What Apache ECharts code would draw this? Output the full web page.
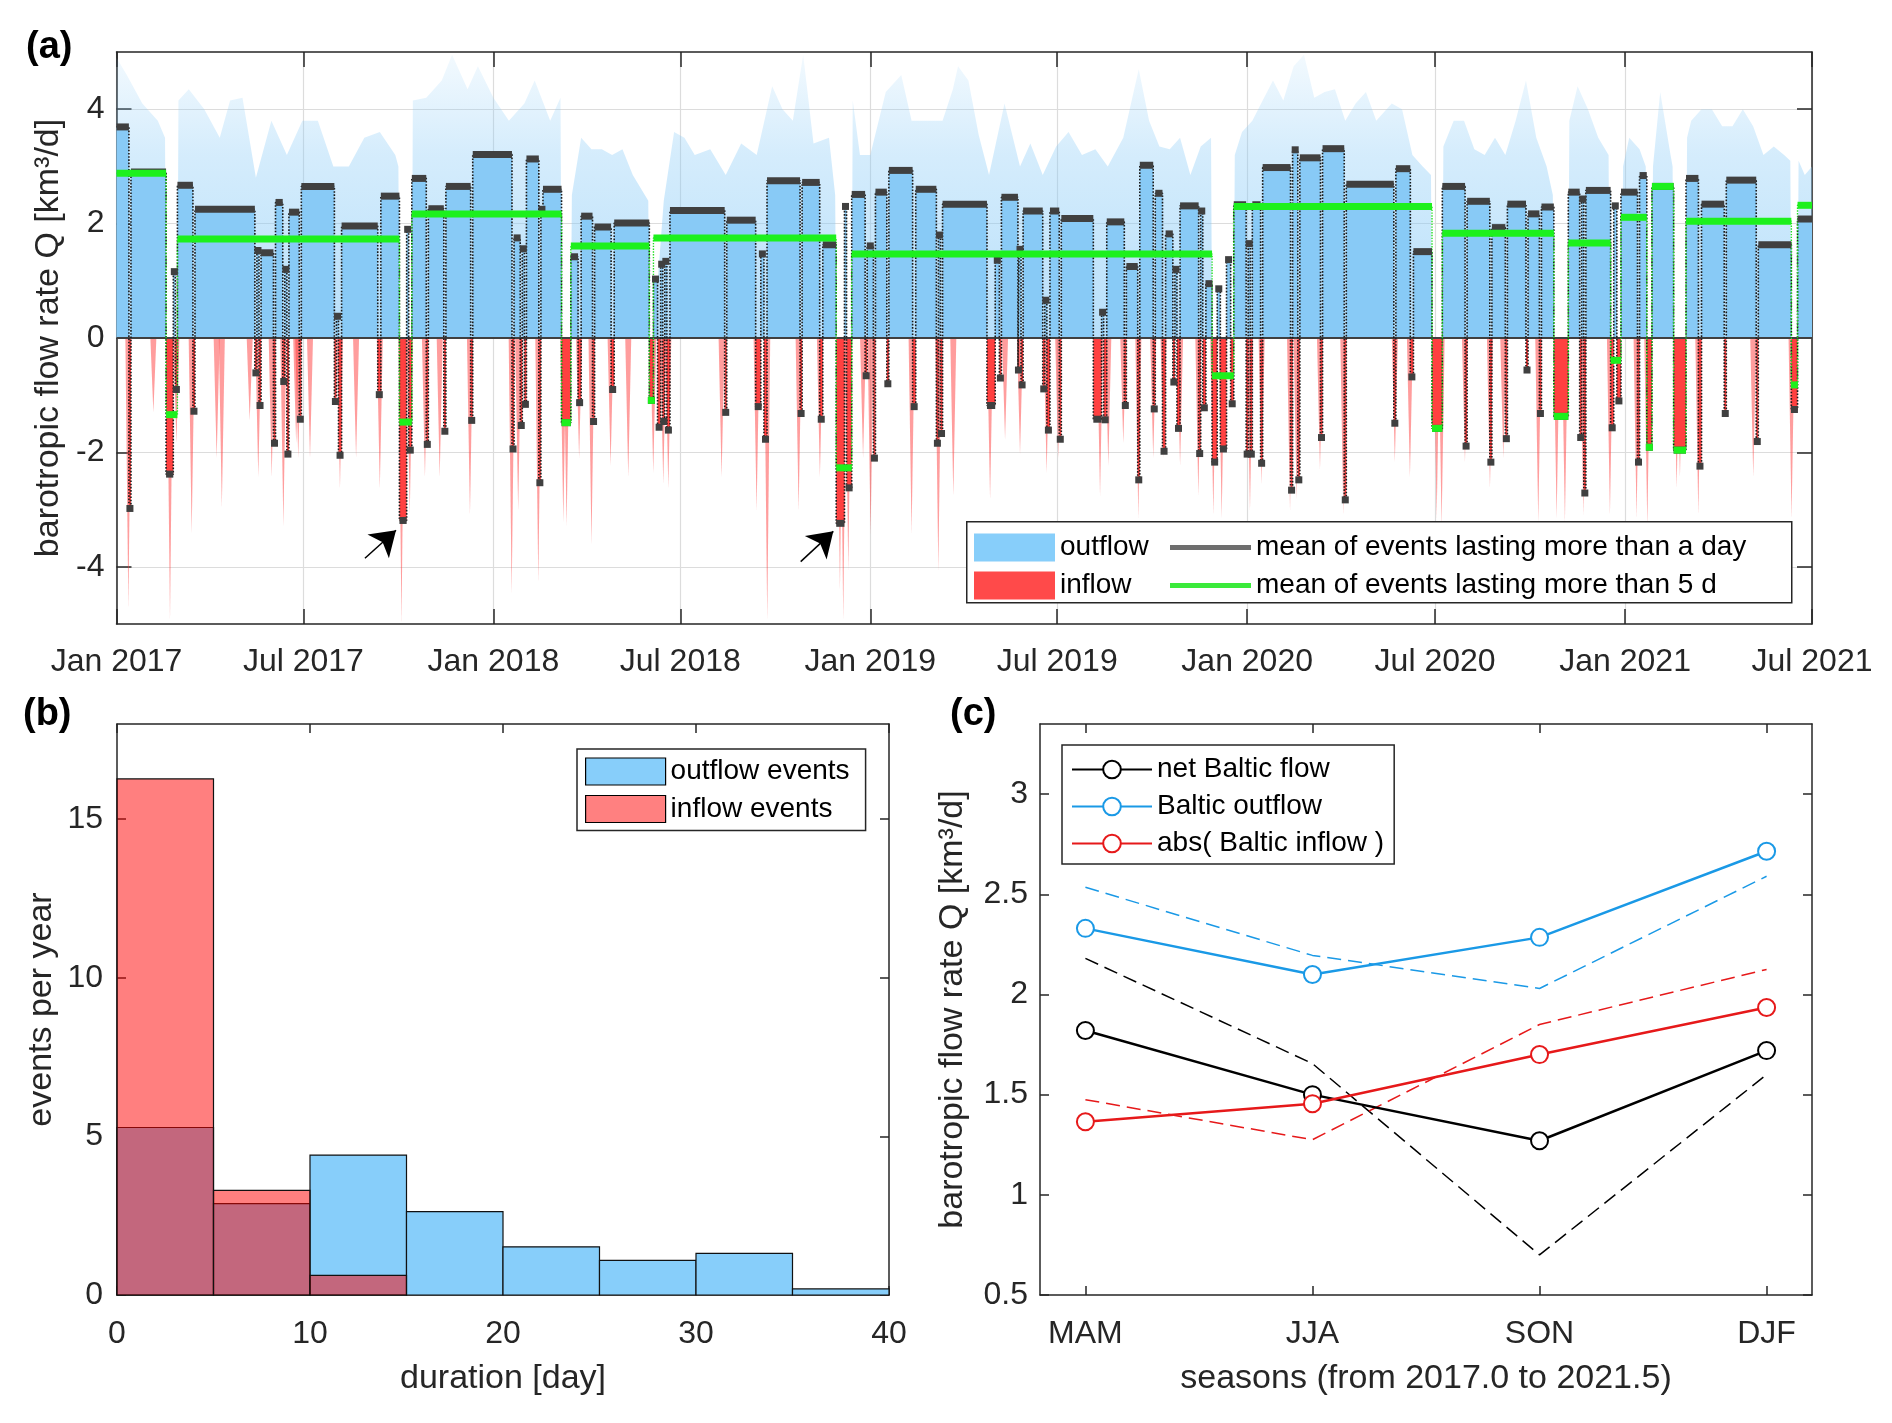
<!DOCTYPE html>
<html><head><meta charset="utf-8">
<script src="https://cdn.jsdelivr.net/npm/echarts@6/dist/echarts.min.js"></script>
<style>html,body{margin:0;padding:0;background:#fff}#c{width:1892px;height:1423px}</style>
</head><body><div id="c"></div>
<script>
// ---------- DATA ----------
// panel (a): x in days since 2017-01-01
const xTickDays = [0,181,365,546,730,911,1095,1277,1461,1642];
const xTickLabels = ['Jan 2017','Jul 2017','Jan 2018','Jul 2018','Jan 2019','Jul 2019','Jan 2020','Jul 2020','Jan 2021','Jul 2021'];
const yTicksA = [-4,-2,0,2,4];

// [startDay, endDay, mean] events lasting more than a day
const blackEvents = [
[0,12,3.69],[12,14,-2.98],[14,48,2.90],[48,55,-2.38],[55,57,1.16],[57,59,-0.90],[59,74,2.67],[74,76,-1.28],
[76,134,2.25],[134,136,-0.61],[136,138,1.53],[138,140,-1.18],[140,152,1.49],[152,154,-1.84],[154,161,2.37],
[161,163,-0.76],[163,165,1.20],[165,167,-2.03],[167,177,2.20],[177,179,-1.42],[179,211,2.65],[211,213,-1.11],
[213,215,0.38],[215,218,-2.05],[218,253,1.96],[253,256,-0.99],[256,274,2.48],[274,281,-3.19],[281,283,1.90],
[283,286,-1.96],[286,300,2.79],[300,302,-1.86],[302,317,2.26],[317,319,-1.63],[319,343,2.65],[343,345,-1.44],
[345,383,3.21],[383,385,-1.94],[385,391,1.75],[391,393,-1.53],[393,395,1.56],[395,397,-1.16],[397,409,3.13],
[409,411,-2.53],[411,413,2.25],[413,431,2.60],[431,440,-1.48],[440,447,1.42],[447,450,-1.13],[450,461,2.13],
[461,463,-1.46],[463,479,1.94],[479,482,-0.90],[482,516,2.01],[516,520,-1.09],[520,524,1.03],[524,527,-1.56],
[527,529,1.29],[529,531,-1.46],[531,533,1.34],[533,536,-1.61],[536,589,2.23],[589,591,-1.30],[591,619,2.06],
[619,624,-1.20],[624,627,1.47],[627,630,-1.77],[630,662,2.75],[662,664,-1.32],[664,681,2.72],[681,684,-1.42],
[684,697,1.63],[697,705,-3.24],[705,707,2.30],[707,712,-2.62],[712,725,2.51],[725,727,-0.66],[727,733,1.61],
[733,735,-2.10],[735,746,2.55],[746,748,-0.80],[748,771,2.93],[771,774,-1.20],[774,794,2.60],[794,796,-1.84],
[796,798,1.80],[798,800,-1.67],[800,843,2.34],[843,851,-1.18],[851,855,1.36],[855,857,-0.70],[857,873,2.46],
[873,874,-0.56],[874,876,1.55],[876,878,-0.82],[878,897,2.22],[897,899,-0.89],[899,901,0.66],[901,904,-1.61],
[904,913,2.22],[913,915,-1.77],[915,946,2.09],[946,954,-1.42],[954,956,0.45],[956,959,-1.43],[959,976,2.03],
[976,978,-1.18],[978,989,1.25],[989,991,-2.48],[991,1004,3.02],[1004,1006,-1.24],[1006,1013,2.53],[1013,1016,-1.98],
[1016,1023,1.82],[1023,1025,-0.77],[1025,1027,1.20],[1027,1030,-1.58],[1030,1048,2.31],[1048,1050,-2.02],
[1050,1052,2.22],[1052,1055,-1.22],[1055,1061,0.95],[1061,1066,-2.17],[1066,1069,0.86],[1069,1075,-1.94],
[1075,1079,1.37],[1079,1082,-1.15],[1082,1094,2.33],[1094,1096,-2.03],[1096,1098,1.65],[1098,1100,-2.03],
[1100,1108,2.33],[1108,1110,-2.19],[1110,1137,2.98],[1137,1139,-2.66],[1139,1144,3.29],[1144,1146,-2.48],
[1146,1166,3.15],[1166,1168,-1.74],[1168,1189,3.31],[1189,1191,-2.83],[1191,1237,2.69],[1237,1239,-1.49],
[1239,1253,2.96],[1253,1256,-0.68],[1256,1274,1.51],[1274,1284,-1.58],[1284,1306,2.65],[1306,1308,-1.89],
[1308,1330,2.39],[1330,1332,-2.17],[1332,1345,1.93],[1345,1347,-1.76],[1347,1365,2.34],[1365,1367,-0.56],
[1367,1378,2.17],[1378,1380,-1.32],[1380,1392,2.29],[1392,1406,-1.37],[1406,1417,2.55],[1417,1419,-1.74],
[1419,1421,2.43],[1421,1423,-2.71],[1423,1447,2.58],[1447,1450,-1.57],[1450,1453,2.31],[1453,1457,-1.10],
[1457,1473,2.55],[1473,1475,-2.17],[1475,1482,2.84],[1482,1487,-1.91],[1487,1508,2.65],[1508,1520,-1.96],
[1520,1532,2.79],[1532,1535,-2.24],[1535,1557,2.34],[1557,1559,-1.32],[1559,1588,2.76],[1588,1590,-1.81],
[1590,1622,1.63],[1622,1628,-1.25],[1628,1642,2.08]
];

// [startDay, endDay, mean] events lasting more than 5 d
const greenEvents = [
[0,48,2.88],[48,59,-1.34],[59,274,1.73],[274,286,-1.47],[286,431,2.17],[431,440,-1.48],[440,516,1.61],
[516,520,-1.09],[520,697,1.75],[697,712,-2.27],[712,1061,1.47],[1061,1082,-0.66],[1082,1274,2.30],
[1274,1284,-1.58],[1284,1392,1.83],[1392,1406,-1.37],[1406,1447,1.66],[1447,1457,-0.39],[1457,1482,2.11],
[1482,1487,-1.91],[1487,1508,2.65],[1508,1520,-1.96],[1520,1622,2.04],[1622,1628,-0.82],[1628,1642,2.32]
];

// upper envelope of daily outflow [day, value]
const outflowEnvelope = [
[0,4.9],[10,4.6],[25,4.1],[40,3.8],[47,3.5],[48,0],[59,0],[60,4.15],[70,4.35],[85,4.0],[100,3.5],[110,4.15],
[122,4.2],[135,2.8],[150,3.8],[165,3.2],[180,3.8],[195,3.8],[210,3.0],[225,3.0],[240,3.5],[255,3.6],[270,3.2],
[273,3.0],[274,0],[286,0],[287,4.15],[300,4.2],[315,4.5],[325,4.95],[340,4.35],[350,4.75],[365,4.2],[380,3.8],
[395,4.1],[405,4.5],[420,3.8],[430,4.2],[431,0],[440,0],[441,2.5],[450,3.5],[460,3.3],[470,3.3],[480,3.2],
[490,3.3],[500,2.85],[515,2.4],[516,0],[520,0],[530,2.4],[540,3.6],[550,3.5],[560,3.2],[575,3.3],[590,2.85],
[605,3.4],[620,3.2],[635,4.4],[645,4.0],[655,3.8],[665,4.95],[675,3.4],[690,3.5],[696,2.5],[697,0],[712,0],
[713,4.15],[720,3.2],[730,3.2],[745,4.3],[760,4.6],[770,3.8],[785,3.8],[800,3.8],[810,4.35],[815,4.75],
[825,4.5],[835,3.55],[845,2.85],[860,4.1],[875,3.0],[885,3.4],[897,2.85],[910,3.35],[922,3.6],[935,3.2],
[948,3.3],[960,3.0],[975,3.5],[990,4.7],[1000,3.8],[1010,3.35],[1020,3.3],[1030,3.5],[1040,2.85],[1050,3.35],
[1060,3.5],[1061,0],[1082,0],[1083,3.2],[1090,3.6],[1100,3.8],[1110,4.15],[1120,4.5],[1130,4.15],[1140,4.75],
[1150,4.95],[1160,4.2],[1170,4.3],[1180,4.35],[1190,3.8],[1200,4.1],[1210,4.3],[1220,3.8],[1235,4.1],
[1245,4.0],[1255,3.2],[1265,3.0],[1273,2.85],[1274,0],[1284,0],[1285,3.35],[1295,3.8],[1305,3.8],[1315,3.3],
[1325,3.2],[1335,3.5],[1345,3.2],[1355,3.8],[1365,4.5],[1375,3.5],[1385,3.0],[1391,2.5],[1392,0],[1406,0],
[1407,3.8],[1415,4.4],[1425,4.0],[1435,3.5],[1445,3.2],[1446,0],[1458,0],[1459,3.0],[1465,3.5],[1475,3.3],
[1481,3.0],[1482,0],[1487,0],[1488,3.0],[1495,4.3],[1505,3.2],[1507,3.0],[1508,0],[1520,0],[1521,3.5],
[1525,3.8],[1535,4.0],[1545,4.0],[1555,3.7],[1565,3.7],[1575,4.0],[1585,3.7],[1595,3.2],[1605,3.35],
[1615,3.2],[1621,3.1],[1622,0],[1628,0],[1629,3.1],[1635,2.85],[1642,3.0]
];

// deepest daily inflow spikes [day, value]
const inflowSpikes = [
[11.5,-4.73],[35.7,-1.3],[51.8,-4.93],[58,-1.84],[72.8,-3.42],[97,-2.1],[102,-2.96],[129,-1.44],[137.3,-2.43],
[150.3,-2.43],[161.6,-3.29],[174,-1.84],[176,-2.1],[187.4,-2.1],[216.4,-2.63],[232,-2.1],[255,-2.63],[276,-5.0],
[284,-3.09],[298.7,-2.43],[313,-2.43],[342.3,-3.09],[382.7,-4.47],[389,-3.02],[408.5,-4.27],[432.7,-3.22],
[435.9,-3.29],[448,-2.1],[460,-3.61],[478.5,-2.23],[495.6,-2.43],[519.8,-2.36],[529.5,-2.56],[534.4,-2.63],
[586,-2.43],[619.9,-3.02],[630.2,-4.93],[660.6,-3.02],[681.2,-2.43],[700.6,-4.4],[703.8,-4.93],[708.7,-4.07],
[723,-2.1],[730.3,-3.42],[770,-3.42],[795.9,-4.07],[810.4,-2.76],[846,-2.82],[860.5,-1.77],[875,-2.03],
[900.8,-2.36],[912,-2.1],[952.5,-2.76],[960.5,-2.23],[975,-1.84],[989.6,-3.15],[1004,-2.1],[1014,-2.1],
[1030,-2.23],[1047.7,-2.76],[1062.2,-3.09],[1070.3,-3.15],[1097.7,-3.02],[1109,-2.56],[1136.5,-3.02],
[1142.9,-2.82],[1165.5,-2.3],[1188.1,-3.09],[1238,-2.17],[1252.6,-2.43],[1278.5,-3.15],[1283.3,-3.29],
[1305.9,-2.17],[1330.1,-2.63],[1343,-2.1],[1376.9,-3.22],[1394.7,-3.15],[1402.7,-3.22],[1420.5,-3.09],
[1446.3,-3.09],[1472.1,-3.15],[1482.5,-3.29],[1510.9,-2.63],[1514.1,-2.43],[1531.9,-3.09],[1585.1,-2.43],
[1622.2,-3.15]
];

// arrows [tailDay, tailValue, tipDay, tipValue]
const arrowLines = [[240.6,-3.85,270.7,-3.36],[662.6,-3.91,694.2,-3.38]];

// panel (b)
const durationBins = [0,5,10,15,20,25,30,35,40];
const outflowEventsPerYear = [5.28,2.88,4.41,2.63,1.52,1.09,1.31,0.19];
const inflowEventsPerYear = [16.27,3.30,0.62,0,0,0,0,0];

// panel (c)
const seasons = ['MAM','JJA','SON','DJF'];
const netFlow = [1.82,1.50,1.27,1.72];
const outflowMean = [2.33,2.10,2.285,2.715];
const inflowAbsMean = [1.365,1.455,1.70,1.935];
const netFlowDashed = [2.18,1.655,0.70,1.60];
const outflowDashed = [2.535,2.195,2.03,2.59];
const inflowDashed = [1.475,1.275,1.85,2.125];

// ---------- CHART ----------
const FONT = "'Liberation Sans', Arial, Helvetica, sans-serif";
const AX = '#262626';

function valAxis(o) {
  return {
    type: 'value', gridIndex: o.grid, position: o.pos, min: o.min, max: o.max,
    axisLine: {show: true, onZero: false, lineStyle: {color: AX, width: 1.5}},
    axisTick: {show: true, inside: true, length: o.tickLen, customValues: o.ticks, lineStyle: {color: AX, width: 1.5}},
    axisLabel: {show: !!o.fmt, customValues: o.ticks, formatter: o.fmt, margin: o.margin || 8,
      color: AX, fontSize: 32, fontFamily: FONT},
    splitLine: {show: !!o.split, lineStyle: {color: '#dcdcdc', width: 1.2}},
    name: o.name || '', nameLocation: 'middle', nameGap: o.nameGap || 0,
    nameTextStyle: {fontSize: 34, color: AX, fontFamily: FONT}
  };
}

function stepPoints(ev) {
  const pts = [];
  ev.forEach(e => { pts.push([e[0], e[2]]); pts.push([e[1], e[2]]); });
  return pts;
}
function segRender(h, color, minW) {
  return function (p, api) {
    const s = api.value(0), e = api.value(1), v = api.value(2);
    const a = api.coord([s, v]), b = api.coord([e, v]);
    let x = a[0], w = b[0] - a[0];
    if (w < minW) { x -= (minW - w) / 2; w = minW; }
    return {type: 'rect', shape: {x: x, y: a[1] - h / 2, width: w, height: h}, style: {fill: color}};
  };
}
function fillRender(color) {
  return function (p, api) {
    const s = api.value(0), e = api.value(1), v = api.value(2);
    const a = api.coord([s, v]), b = api.coord([e, 0]);
    const y0 = Math.min(a[1], b[1]), y1 = Math.max(a[1], b[1]);
    return {type: 'rect', shape: {x: a[0], y: y0, width: Math.max(b[0] - a[0], 1.5), height: y1 - y0}, style: {fill: color}};
  };
}
function histRender(color) {
  return function (p, api) {
    const a = api.coord([api.value(0), api.value(2)]), b = api.coord([api.value(1), 0]);
    return {type: 'rect', shape: {x: a[0], y: a[1], width: b[0] - a[0], height: b[1] - a[1]},
      style: {fill: color, stroke: '#111', lineWidth: 1.2}};
  };
}
function histData(vals) {
  return vals.map((v, i) => [durationBins[i], durationBins[i + 1], v]).filter(d => d[2] > 0);
}
function seasonData(vals) { return vals.map((v, i) => [i + 1, v]); }

const titleStyle = {fontSize: 38, fontWeight: 'bold', color: '#000', fontFamily: FONT};
const legendText = {fontSize: 28, lineHeight: 29, color: '#000', fontFamily: FONT};

const option = {
  backgroundColor: '#fff',
  animation: false,
  textStyle: {fontFamily: FONT},
  title: [
    {text: '(a)', left: 26, top: 29, padding: 0, textStyle: titleStyle},
    {text: '(b)', left: 23, top: 696, padding: 0, textStyle: titleStyle},
    {text: '(c)', left: 950, top: 696, padding: 0, textStyle: titleStyle}
  ],
  grid: [
    {left: 116.5, top: 52, width: 1695.5, height: 572},
    {left: 117, top: 724, width: 772, height: 571},
    {left: 1040, top: 724, width: 772, height: 571}
  ],
  xAxis: [
    valAxis({grid: 0, pos: 'bottom', min: 0, max: 1642, ticks: xTickDays, fmt: v => xTickLabels[xTickDays.indexOf(v)], tickLen: 15, margin: 22, split: true}),
    valAxis({grid: 0, pos: 'top', min: 0, max: 1642, ticks: xTickDays, tickLen: 15}),
    valAxis({grid: 1, pos: 'bottom', min: 0, max: 40, ticks: [0,10,20,30,40], fmt: v => String(v), tickLen: 9, margin: 23, name: 'duration [day]', nameGap: 67}),
    valAxis({grid: 1, pos: 'top', min: 0, max: 40, ticks: [0,10,20,30,40], tickLen: 9}),
    valAxis({grid: 2, pos: 'bottom', min: 0.8, max: 4.2, ticks: [1,2,3,4], fmt: v => seasons[Math.round(v) - 1], tickLen: 9, margin: 23, name: 'seasons (from 2017.0 to 2021.5)', nameGap: 67}),
    valAxis({grid: 2, pos: 'top', min: 0.8, max: 4.2, ticks: [1,2,3,4], tickLen: 9})
  ],
  yAxis: [
    valAxis({grid: 0, pos: 'left', min: -5, max: 5, ticks: yTicksA, fmt: v => String(v), tickLen: 15, margin: 12, split: true, name: 'barotropic flow rate Q [km³/d]', nameGap: 50}),
    valAxis({grid: 0, pos: 'right', min: -5, max: 5, ticks: yTicksA, tickLen: 15}),
    valAxis({grid: 1, pos: 'left', min: 0, max: 18, ticks: [0,5,10,15], fmt: v => String(v), tickLen: 9, margin: 14, name: 'events per year', nameGap: 58}),
    valAxis({grid: 1, pos: 'right', min: 0, max: 18, ticks: [0,5,10,15], tickLen: 9}),
    valAxis({grid: 2, pos: 'left', min: 0.5, max: 3.35, ticks: [0.5,1,1.5,2,2.5,3], fmt: v => String(v), tickLen: 9, margin: 12, name: 'barotropic flow rate Q [km³/d]', nameGap: 70}),
    valAxis({grid: 2, pos: 'right', min: 0.5, max: 3.35, ticks: [0.5,1,1.5,2,2.5,3], tickLen: 9})
  ],
  legend: [
    {left: 974, top: 533, orient: 'vertical', padding: 0, itemGap: 9, itemWidth: 81, itemHeight: 28, z: 10,
      selectedMode: false, textStyle: legendText,
      data: [{name: 'outflow', icon: 'rect', itemStyle: {color: '#87CEFA'}},
             {name: 'inflow', icon: 'rect', itemStyle: {color: '#FF4A4A'}}]},
    {left: 1170, top: 533, orient: 'vertical', padding: 0, itemGap: 9, itemWidth: 81, itemHeight: 5, z: 10,
      selectedMode: false, textStyle: legendText,
      data: [{name: 'mean of events lasting more than a day', icon: 'rect', itemStyle: {color: '#6E6E6E'}},
             {name: 'mean of events lasting more than 5 d', icon: 'rect', itemStyle: {color: '#3BEA3B'}}]},
    {left: 577, top: 749, orient: 'vertical', padding: [8, 16, 7, 8], itemGap: 8.5, itemWidth: 80, itemHeight: 27,
      borderColor: AX, borderWidth: 1.5, backgroundColor: '#fff', selectedMode: false, textStyle: legendText,
      data: [{name: 'outflow events', icon: 'rect', itemStyle: {color: '#87CEFA', borderColor: '#000', borderWidth: 1.2}},
             {name: 'inflow events', icon: 'rect', itemStyle: {color: '#FF8080', borderColor: '#000', borderWidth: 1.2}}]},
    {left: 1062, top: 745, orient: 'vertical', padding: [10, 10, 6, 9], itemGap: 8, itemWidth: 80, itemHeight: 22,
      borderColor: AX, borderWidth: 1.5, backgroundColor: '#fff', selectedMode: false, textStyle: legendText,
      data: ['net Baltic flow', 'Baltic outflow', 'abs( Baltic inflow )']}
  ],
  graphic: [
    {type: 'rect', left: 966, top: 521, z: 9, shape: {width: 825, height: 81},
      style: {fill: '#fff', stroke: AX, lineWidth: 1.5}}
  ],
  series: [
    // ----- panel (a)
    {type: 'line', name: 'outflow', xAxisIndex: 0, yAxisIndex: 0, data: outflowEnvelope, symbol: 'none', silent: true, z: 1,
      lineStyle: {width: 0}, clip: true,
      areaStyle: {color: {type: 'linear', x: 0, y: 0, x2: 0, y2: 1, colorStops: [
        {offset: 0, color: 'rgba(135,202,247,0.15)'}, {offset: 0.35, color: 'rgba(135,202,247,0.5)'},
        {offset: 1, color: 'rgba(135,202,247,0.85)'}]}}},
    {type: 'custom', name: 'inflow', xAxisIndex: 0, yAxisIndex: 0, data: inflowSpikes, encode: {x: 0, y: 1}, silent: true, z: 1, clip: true,
      renderItem: function (p, api) {
        const d = api.value(0), m = api.value(1);
        const a = api.coord([d, 0]), b = api.coord([d, m]);
        return {type: 'polygon', shape: {points: [[a[0] - 3, a[1]], [a[0] + 3, a[1]], [b[0], b[1]]]},
          style: {fill: 'rgba(255,60,60,0.5)'}};
      }},
    {type: 'custom', name: 'outflow', xAxisIndex: 0, yAxisIndex: 0, data: blackEvents.filter(e => e[2] > 0),
      encode: {x: [0, 1], y: 2}, renderItem: fillRender('#88CAF6'), silent: true, z: 2, clip: true},
    {type: 'custom', name: 'inflow', xAxisIndex: 0, yAxisIndex: 0, data: blackEvents.filter(e => e[2] < 0),
      encode: {x: [0, 1], y: 2}, renderItem: fillRender('#FF4040'), silent: true, z: 2, clip: true},
    {type: 'line', xAxisIndex: 0, yAxisIndex: 0, data: [[0, 0], [1642, 0]], symbol: 'none', silent: true, z: 3,
      lineStyle: {color: '#404040', width: 2},
      markLine: {silent: true, symbol: ['none', 'arrow'], symbolSize: 24, label: {show: false},
        lineStyle: {color: '#000', width: 1.5, type: 'solid'},
        data: arrowLines.map(a => [{coord: [a[0], a[1]]}, {coord: [a[2], a[3]]}])}},
    {type: 'line', name: 'mean of events lasting more than a day', xAxisIndex: 0, yAxisIndex: 0, data: stepPoints(blackEvents),
      symbol: 'none', silent: true, z: 3, lineStyle: {color: '#1a1a1a', width: 1.6, type: 'dotted'}},
    {type: 'line', name: 'mean of events lasting more than 5 d', xAxisIndex: 0, yAxisIndex: 0, data: stepPoints(greenEvents),
      symbol: 'none', silent: true, z: 3, lineStyle: {color: '#22DD22', width: 1.4, type: 'dotted'}},
    {type: 'custom', name: 'mean of events lasting more than a day', xAxisIndex: 0, yAxisIndex: 0, data: blackEvents,
      encode: {x: [0, 1], y: 2}, renderItem: segRender(7, '#404040', 7), silent: true, z: 4, clip: true},
    {type: 'custom', name: 'mean of events lasting more than 5 d', xAxisIndex: 0, yAxisIndex: 0, data: greenEvents,
      encode: {x: [0, 1], y: 2}, renderItem: segRender(7, '#1DF01D', 7), silent: true, z: 5, clip: true},
    // ----- panel (b)
    {type: 'custom', name: 'outflow events', xAxisIndex: 2, yAxisIndex: 2, data: histData(outflowEventsPerYear),
      encode: {x: [0, 1], y: 2}, renderItem: histRender('#87CEFA'), silent: true, z: 2},
    {type: 'custom', name: 'inflow events', xAxisIndex: 2, yAxisIndex: 2, data: histData(inflowEventsPerYear),
      encode: {x: [0, 1], y: 2}, renderItem: histRender('rgba(255,0,0,0.5)'), silent: true, z: 3},
    // ----- panel (c)
    {type: 'line', xAxisIndex: 4, yAxisIndex: 4, data: seasonData(netFlowDashed), symbol: 'none', silent: true, z: 2,
      lineStyle: {color: '#000', width: 1.5, type: [14, 7]}},
    {type: 'line', xAxisIndex: 4, yAxisIndex: 4, data: seasonData(outflowDashed), symbol: 'none', silent: true, z: 2,
      lineStyle: {color: '#1A99E6', width: 1.5, type: [14, 7]}},
    {type: 'line', xAxisIndex: 4, yAxisIndex: 4, data: seasonData(inflowDashed), symbol: 'none', silent: true, z: 2,
      lineStyle: {color: '#E6191A', width: 1.5, type: [14, 7]}},
    {type: 'line', name: 'net Baltic flow', xAxisIndex: 4, yAxisIndex: 4, data: seasonData(netFlow), symbol: 'emptyCircle',
      symbolSize: 17, silent: true, z: 3, lineStyle: {color: '#000', width: 2.5}, itemStyle: {color: '#000', borderWidth: 2.2}},
    {type: 'line', name: 'Baltic outflow', xAxisIndex: 4, yAxisIndex: 4, data: seasonData(outflowMean), symbol: 'emptyCircle',
      symbolSize: 17, silent: true, z: 3, lineStyle: {color: '#1A99E6', width: 2.5}, itemStyle: {color: '#1A99E6', borderWidth: 2.2}},
    {type: 'line', name: 'abs( Baltic inflow )', xAxisIndex: 4, yAxisIndex: 4, data: seasonData(inflowAbsMean), symbol: 'emptyCircle',
      symbolSize: 17, silent: true, z: 3, lineStyle: {color: '#E6191A', width: 2.5}, itemStyle: {color: '#E6191A', borderWidth: 2.2}}
  ]
};

const chart = echarts.init(document.getElementById('c'), null, {renderer: 'canvas', width: 1892, height: 1423});
chart.setOption(option);
</script></body></html>
